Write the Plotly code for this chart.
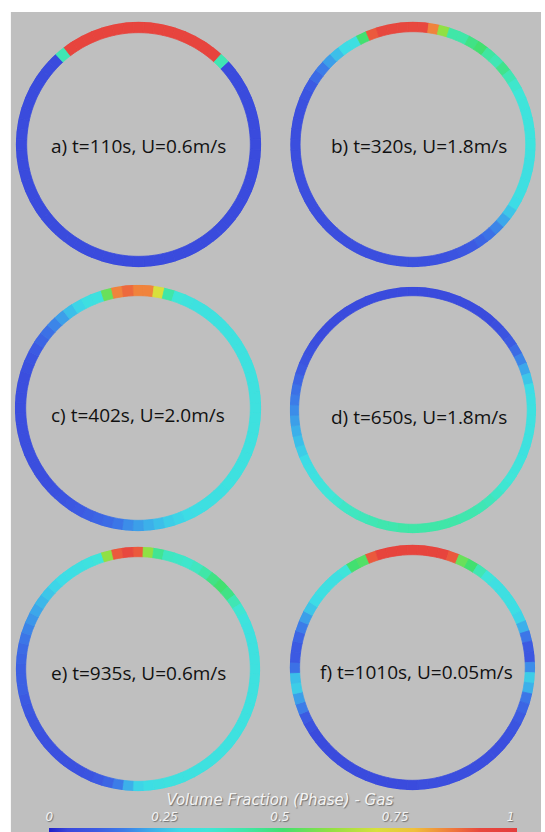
import plotly.graph_objects as go

W, H = 545, 832

# Angular stations (degrees, clockwise from 12 o'clock), one value every 5 degrees
theta_deg = list(range(0, 360, 5))

# Gas volume fraction around the loop for each snapshot
gas_a = [0.95, 0.95, 0.95, 0.95, 0.95, 0.95, 0.95, 0.95, 0.95, 0.40, 0.05, 0.05,
         0.05, 0.05, 0.05, 0.05, 0.05, 0.05, 0.05, 0.05, 0.05, 0.05, 0.05, 0.05,
         0.05, 0.05, 0.05, 0.05, 0.05, 0.05, 0.05, 0.05, 0.05, 0.05, 0.05, 0.05,
         0.05, 0.05, 0.05, 0.05, 0.05, 0.05, 0.05, 0.05, 0.05, 0.05, 0.05, 0.05,
         0.05, 0.05, 0.05, 0.05, 0.05, 0.05, 0.05, 0.05, 0.05, 0.05, 0.05, 0.05,
         0.05, 0.05, 0.05, 0.05, 0.40, 0.95, 0.95, 0.95, 0.95, 0.95, 0.95, 0.95]

gas_b = [0.92, 0.92, 0.85, 0.60, 0.42, 0.42, 0.47, 0.50, 0.43, 0.40, 0.46, 0.40,
         0.36, 0.34, 0.33, 0.32, 0.32, 0.32, 0.32, 0.31, 0.30, 0.30, 0.30, 0.30,
         0.28, 0.25, 0.21, 0.17, 0.14, 0.12, 0.10, 0.09, 0.08, 0.07, 0.07, 0.07,
         0.07, 0.07, 0.07, 0.06, 0.06, 0.06, 0.06, 0.06, 0.06, 0.06, 0.06, 0.06,
         0.06, 0.06, 0.06, 0.06, 0.06, 0.06, 0.06, 0.06, 0.06, 0.06, 0.07, 0.08,
         0.10, 0.13, 0.16, 0.20, 0.24, 0.28, 0.30, 0.50, 0.90, 0.93, 0.93, 0.93]

gas_c = [0.85, 0.85, 0.70, 0.42, 0.34, 0.32, 0.31, 0.31, 0.31, 0.31, 0.31, 0.31,
         0.31, 0.31, 0.31, 0.31, 0.31, 0.31, 0.31, 0.31, 0.31, 0.31, 0.31, 0.31,
         0.31, 0.31, 0.31, 0.30, 0.30, 0.30, 0.29, 0.28, 0.27, 0.26, 0.24, 0.22,
         0.20, 0.18, 0.15, 0.13, 0.12, 0.11, 0.10, 0.09, 0.08, 0.07, 0.06, 0.06,
         0.06, 0.06, 0.06, 0.06, 0.06, 0.06, 0.06, 0.06, 0.06, 0.06, 0.07, 0.08,
         0.10, 0.12, 0.14, 0.17, 0.20, 0.24, 0.27, 0.30, 0.31, 0.55, 0.85, 0.88]

gas_d = [0.05, 0.05, 0.05, 0.05, 0.05, 0.05, 0.05, 0.05, 0.05, 0.06, 0.08, 0.10,
         0.13, 0.17, 0.21, 0.25, 0.28, 0.30, 0.31, 0.31, 0.31, 0.31, 0.31, 0.32,
         0.33, 0.34, 0.35, 0.37, 0.39, 0.40, 0.41, 0.41, 0.42, 0.42, 0.42, 0.42,
         0.42, 0.42, 0.41, 0.41, 0.40, 0.39, 0.38, 0.37, 0.35, 0.34, 0.33, 0.31,
         0.30, 0.28, 0.26, 0.24, 0.22, 0.20, 0.18, 0.16, 0.14, 0.12, 0.10, 0.08,
         0.07, 0.06, 0.05, 0.05, 0.05, 0.05, 0.05, 0.05, 0.05, 0.05, 0.05, 0.05]

gas_e = [0.90, 0.60, 0.45, 0.38, 0.37, 0.36, 0.38, 0.42, 0.47, 0.50, 0.47, 0.40,
         0.35, 0.32, 0.31, 0.31, 0.31, 0.31, 0.31, 0.31, 0.31, 0.31, 0.31, 0.31,
         0.31, 0.31, 0.31, 0.31, 0.31, 0.31, 0.31, 0.31, 0.31, 0.31, 0.30, 0.29,
         0.27, 0.22, 0.16, 0.12, 0.10, 0.08, 0.07, 0.07, 0.07, 0.07, 0.07, 0.07,
         0.08, 0.08, 0.09, 0.10, 0.11, 0.11, 0.11, 0.12, 0.13, 0.15, 0.17, 0.19,
         0.21, 0.23, 0.25, 0.27, 0.28, 0.29, 0.30, 0.31, 0.33, 0.60, 0.90, 0.92]

gas_f = [0.95, 0.95, 0.95, 0.95, 0.90, 0.55, 0.50, 0.40, 0.33, 0.30, 0.30, 0.30,
         0.29, 0.27, 0.22, 0.15, 0.10, 0.09, 0.18, 0.26, 0.22, 0.15, 0.12, 0.10,
         0.08, 0.07, 0.06, 0.06, 0.06, 0.06, 0.06, 0.06, 0.06, 0.06, 0.06, 0.06,
         0.05, 0.05, 0.05, 0.05, 0.05, 0.05, 0.05, 0.05, 0.05, 0.05, 0.05, 0.05,
         0.07, 0.10, 0.16, 0.20, 0.26, 0.24, 0.14, 0.10, 0.10, 0.12, 0.16, 0.20,
         0.25, 0.28, 0.30, 0.30, 0.30, 0.33, 0.50, 0.52, 0.90, 0.95, 0.95, 0.95]

labels = ["a) t=110s, U=0.6m/s", "b) t=320s, U=1.8m/s", "c) t=402s, U=2.0m/s",
          "d) t=650s, U=1.8m/s", "e) t=935s, U=0.6m/s", "f) t=1010s, U=0.05m/s"]

cbar_ticks = [0, 0.25, 0.5, 0.75, 1]
cbar_ticktext = ["0", "0.25", "0.5", "0.75", "1"]
cbar_title = "Volume Fraction (Phase) - Gas"

# Ring placement in pixels: centre, outer radius, wall thickness, label nudge
rings = [
    dict(cx=136.5, cy=144.5, r=124.5, t=11, ldx=0, ldy=1),
    dict(cx=415.0, cy=144.5, r=124.5, t=10, ldx=6, ldy=1),
    dict(cx=136.0, cy=408.0, r=125.0, t=11, ldx=0, ldy=7),
    dict(cx=415.0, cy=410.0, r=125.0, t=9, ldx=6, ldy=7),
    dict(cx=136.0, cy=669.0, r=124.0, t=10, ldx=1, ldy=4),
    dict(cx=414.5, cy=667.5, r=124.5, t=10, ldx=4, ldy=4),
]
series = [gas_a, gas_b, gas_c, gas_d, gas_e, gas_f]

rainbow = [
    [0.00, "#2020c8"], [0.04, "#3a48dc"], [0.10, "#3c5ae2"], [0.16, "#3c7ce8"],
    [0.22, "#3cb0ea"], [0.28, "#3ddce6"], [0.34, "#3fe6d8"], [0.42, "#40e6a8"],
    [0.50, "#42e070"], [0.60, "#90e044"], [0.70, "#d8e03c"], [0.78, "#f0c03a"],
    [0.86, "#f07a3c"], [0.92, "#e8483e"], [1.00, "#e43c3c"],
]

fig = go.Figure()
layout_polars = {}
annotations = []

for i, (ring, vals, text) in enumerate(zip(rings, series, labels)):
    key = "polar" if i == 0 else f"polar{i + 1}"
    frac = ring["t"] / ring["r"]
    n = len(vals)
    fig.add_trace(go.Barpolar(
        theta=theta_deg,
        r=[frac] * n,
        base=1 - frac,
        width=360 / n,
        marker=dict(color=vals, coloraxis="coloraxis",
                    line=dict(width=0.8, color=vals, coloraxis="coloraxis")),
        subplot=key,
        hoverinfo="skip",
        showlegend=False,
    ))
    cx, cy, r = ring["cx"], ring["cy"], ring["r"]
    layout_polars[key] = dict(
        domain=dict(x=[(cx - r) / W, (cx + r) / W], y=[1 - (cy + r) / H, 1 - (cy - r) / H]),
        bgcolor="rgba(0,0,0,0)",
        hole=0,
        radialaxis=dict(range=[0, 1], visible=False, showgrid=False),
        angularaxis=dict(rotation=90, direction="clockwise", visible=False, showgrid=False),
    )
    annotations.append(dict(
        text=text, x=(cx + ring["ldx"]) / W, y=1 - (cy + ring["ldy"]) / H,
        xref="paper", yref="paper", xanchor="center", yanchor="middle", showarrow=False,
        font=dict(family="Open Sans", size=19, color="#111111"),
    ))

# Axis carrying the colour-bar tick labels and title
cb_x0, cb_len = 46, 468
fig.add_trace(go.Scatter(x=cbar_ticks, y=[0] * len(cbar_ticks), mode="markers",
                         marker=dict(opacity=0), hoverinfo="skip", showlegend=False,
                         xaxis="x", yaxis="y"))

label_font = dict(family="DejaVu Sans", color="#f4f4f4", style="italic",
                  shadow="1px 1px 1px #707070")

fig.update_layout(
    width=W, height=H,
    margin=dict(l=0, r=0, t=0, b=0),
    paper_bgcolor="white",
    plot_bgcolor="rgba(0,0,0,0)",
    annotations=annotations,
    shapes=[dict(type="rect", xref="paper", yref="paper", x0=7 / W, x1=1, y0=0, y1=1 - 12 / H,
                 fillcolor="#bfbfbf", line=dict(width=0), layer="below")],
    coloraxis=dict(
        colorscale=rainbow, cmin=0, cmax=1,
        colorbar=dict(orientation="h", thickness=4, thicknessmode="pixels",
                      len=cb_len, lenmode="pixels", x=cb_x0 / W, xanchor="left",
                      y=0, yanchor="bottom", ypad=0, xpad=0, outlinewidth=0,
                      showticklabels=False, ticks=""),
    ),
    xaxis=dict(domain=[cb_x0 / W, (cb_x0 + cb_len) / W], range=[0, 1], side="top",
               anchor="y", tickvals=cbar_ticks, ticktext=cbar_ticktext,
               showgrid=False, zeroline=False, showline=False, ticks="",
               ticklabelstandoff=4,
               tickfont=dict(size=12, **label_font),
               title=dict(text=cbar_title, standoff=0, font=dict(size=15, **label_font))),
    yaxis=dict(domain=[0, 4 / H], range=[0, 1], visible=False),
    **layout_polars,
)

fig.write_html("out.html")
